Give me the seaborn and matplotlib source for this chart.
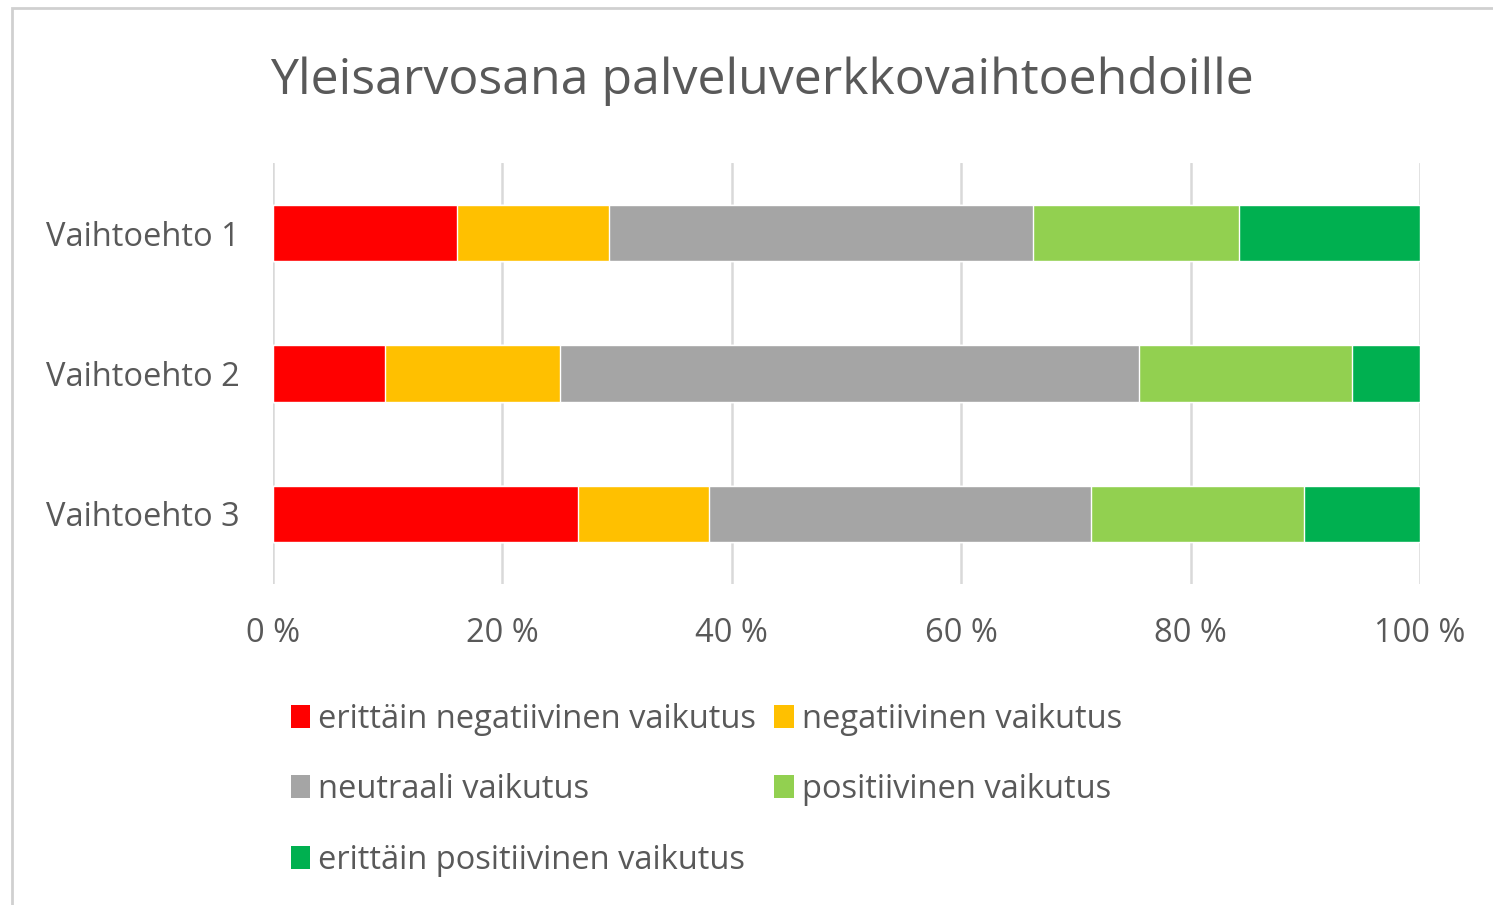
import matplotlib
matplotlib.use("Agg")
import matplotlib.pyplot as plt
import numpy as np
import pandas as pd
import seaborn as sns
from matplotlib.patches import Rectangle, Patch

# data (percent of answers)
options = ["Vaihtoehto 1", "Vaihtoehto 2", "Vaihtoehto 3"]
categories = [
    "erittäin negatiivinen vaikutus",
    "negatiivinen vaikutus",
    "neutraali vaikutus",
    "positiivinen vaikutus",
    "erittäin positiivinen vaikutus",
]
very_negative = [16.0, 9.8, 26.6]
negative = [13.3, 15.2, 11.4]
neutral = [37.0, 50.5, 33.3]
positive = [17.9, 18.6, 18.6]
very_positive = [15.8, 5.9, 10.1]
colors = ["#ff0000", "#ffc000", "#a5a5a5", "#92d050", "#00b050"]
xticks = [0, 20, 40, 60, 80, 100]
xtick_labels = ["0 %", "20 %", "40 %", "60 %", "80 %", "100 %"]

TEXT = "#595959"
FS = 23.5

sns.set_theme(style="white")
plt.rcParams["font.family"] = ["Open Sans", "DejaVu Sans"]

df = pd.DataFrame(
    np.array([very_negative, negative, neutral, positive, very_positive]).T,
    columns=categories,
    index=options,
)
# normalise to 100 % and stack
df = df.div(df.sum(axis=1), axis=0) * 100
cum = df.cumsum(axis=1)

fig = plt.figure(figsize=(14.93, 9.05), dpi=100)
ax = fig.add_axes([0.1829, 0.3547, 0.9511 - 0.1829, 0.8199 - 0.3547])

# draw cumulative bars from the right so each segment shows
for cat, col in reversed(list(zip(categories, colors))):
    sns.barplot(x=cum[cat].values, y=options, color=col, orient="h",
                width=0.4, ax=ax, saturation=1, zorder=3)

ax.set_xlim(0, 100)
ax.set_xticks(xticks)
ax.set_xticklabels(xtick_labels)
ax.set_xlabel("")
ax.set_ylabel("")
ax.grid(axis="x", color="#d9d9d9", linewidth=1.8, zorder=0)
ax.set_axisbelow(True)
for s in ax.spines.values():
    s.set_visible(False)
ax.tick_params(axis="both", length=0, labelsize=FS, labelcolor=TEXT)
ax.tick_params(axis="x", pad=24)
ax.tick_params(axis="y", pad=24)

fig.text(0.51, 0.91, "Yleisarvosana palveluverkkovaihtoehdoille",
         ha="center", va="center", fontsize=36, color=TEXT)

handles = [Patch(facecolor=c, edgecolor="none") for c in colors]
order = [0, 2, 4, 1, 3]
leg = fig.legend([handles[i] for i in order], [categories[i] for i in order],
                 ncol=2, loc="upper left", bbox_to_anchor=(0.186, 0.238),
                 frameon=False, fontsize=FS, handlelength=0.6, handleheight=0.7,
                 handletextpad=0.25, columnspacing=0.55, labelspacing=1.15,
                 borderaxespad=0)
for t in leg.get_texts():
    t.set_color(TEXT)

# chart area border
fig.patches.append(Rectangle((12 / 1493, -0.01), 1.2, 1 - 8 / 905 + 0.01,
                             transform=fig.transFigure, fill=False,
                             edgecolor="#d0d0d0", linewidth=2))

fig.savefig("out.png", dpi=100)
